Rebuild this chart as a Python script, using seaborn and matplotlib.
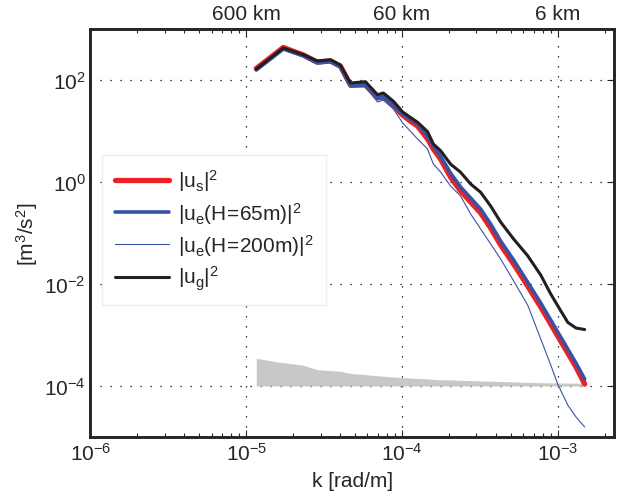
import matplotlib
matplotlib.use('Agg')
import matplotlib.pyplot as plt
import matplotlib.ticker as mticker
import seaborn as sns

# wavenumber grid [rad/m]
k = [1.16e-5, 1.73e-5, 2.33e-5, 2.86e-5, 3.47e-5, 4.02e-5, 4.67e-5, 5.83e-5,
     6.96e-5, 7.60e-5, 8.82e-5, 1.01e-4, 1.13e-4, 1.26e-4, 1.46e-4, 1.59e-4,
     1.77e-4, 2.05e-4, 2.38e-4, 2.76e-4, 3.20e-4, 3.71e-4, 4.30e-4, 5.21e-4,
     6.41e-4, 7.78e-4, 9.02e-4, 1.00e-3, 1.16e-3, 1.31e-3, 1.49e-3]

# |u_s|^2
us = [168, 434, 309, 225, 236, 188, 79.8, 79.8,
      44.4, 46.4, 30.9, 20.6, 15.7, 12.5, 6.97, 4.44,
      2.82, 1.25, 0.666, 0.405, 0.247, 0.125, 0.0582, 0.0247,
      0.00914, 0.00354, 0.00164, 0.000956, 0.000444, 0.000236, 0.000109]

# |u_e(H=65m)|^2
ue65 = [157, 405, 296, 215, 231, 180, 76.3, 79.8,
        44.4, 46.4, 32.3, 21.5, 17.2, 13.7, 7.98, 5.08,
        3.23, 1.50, 0.798, 0.486, 0.295, 0.150, 0.0697, 0.0296,
        0.0109, 0.00424, 0.00197, 0.00115, 0.000531, 0.000282, 0.000137]

# |u_e(H=200m)|^2
ue200 = [157, 405, 296, 215, 225, 172, 72.9, 76.3,
         37.0, 40.5, 27.0, 14.4, 10.0, 6.97, 4.44, 2.25,
         1.57, 0.835, 0.531, 0.236, 0.120, 0.0609, 0.0309, 0.0115,
         0.00388, 0.000835, 0.000258, 0.000109, 4.24e-5, 2.47e-5, 1.57e-5]

# |u_g|^2
ug = [164, 424, 313, 236, 250, 197, 87.4, 92.6,
      51.5, 55.6, 38.2, 23.6, 18.6, 14.8, 9.69, 5.56,
      4.11, 2.25, 1.55, 0.914, 0.628, 0.338, 0.164, 0.0763,
      0.0359, 0.0150, 0.00637, 0.00375, 0.00177, 0.00137, 0.00128]

# grey error band
band_k = [1.16e-5, 1.65e-5, 2.29e-5, 2.86e-5, 4.02e-5, 4.67e-5, 6.96e-5,
          9.36e-5, 1.77e-4, 3.71e-4, 7.78e-4, 1.47e-3]
band_hi = [3.49e-4, 2.91e-4, 2.58e-4, 2.09e-4, 1.94e-4, 1.77e-4, 1.59e-4,
           1.48e-4, 1.33e-4, 1.24e-4, 1.16e-4, 1.13e-4]
band_lo = 1e-4

top_ticks = [1e-5, 1e-4, 1e-3]
top_labels = ['600 km', '60 km', '6 km']

FS = 15

sns.set_style('white')
plt.rcParams['font.family'] = ['Liberation Sans', 'DejaVu Sans']
plt.rcParams['mathtext.fontset'] = 'custom'
plt.rcParams['mathtext.rm'] = 'Liberation Sans'
plt.rcParams['mathtext.it'] = 'Liberation Sans'
plt.rcParams['mathtext.default'] = 'regular'
plt.rcParams['font.size'] = FS

fig = plt.figure(figsize=(6.19, 5.02), dpi=100)
ax = fig.add_axes([0.1462, 0.1275, 0.8458, 0.8127])
ax.set_xscale('log')
ax.set_yscale('log')

ax.fill_between(band_k, band_lo, band_hi, color='#c8c8c8', lw=0, zorder=1)

sns.lineplot(x=k, y=us, ax=ax, color='#ed2125', lw=3.8, label=r'$|u_s|^2$', sort=False)
sns.lineplot(x=k, y=ue65, ax=ax, color='#3953a4', lw=2.6, label=r'$|u_e(H\!=\!65m)|^2$', sort=False)
sns.lineplot(x=k, y=ue200, ax=ax, color='#3953a4', lw=0.8, label=r'$|u_e(H\!=\!200m)|^2$', sort=False)
sns.lineplot(x=k, y=ug, ax=ax, color='#231f20', lw=2.2, label=r'$|u_g|^2$', sort=False)

ax.set_xlim(1e-6, 2.3e-3)
ax.set_ylim(1e-5, 1e3)
ax.set_yticks([1e-4, 1e-2, 1e0, 1e2])
ax.yaxis.set_minor_locator(mticker.NullLocator())
ax.xaxis.set_major_locator(mticker.LogLocator(base=10, numticks=10))
ax.xaxis.set_minor_locator(mticker.LogLocator(base=10, subs=range(2, 10), numticks=10))

ax.grid(True, which='major', color='k', ls=(0, (1, 7)), lw=0.9)
ax.tick_params(which='both', direction='in', top=False, right=True, labelsize=FS, width=0.8)
ax.tick_params(which='major', length=5)
ax.tick_params(which='minor', length=3)
for s in ax.spines.values():
    s.set_linewidth(1.8)
    s.set_color('k')

ax.set_xlabel('k [rad/m]', fontsize=FS, labelpad=5)
ax.set_ylabel(r'[m$^3$/s$^2$]', fontsize=FS, labelpad=3)

leg = ax.legend(loc='upper left', bbox_to_anchor=(0.022, 0.691), borderaxespad=0,
                frameon=True, fancybox=False, edgecolor='#eeeeee', framealpha=1,
                handlelength=2.6, labelspacing=0.3, fontsize=FS, handletextpad=0.45,
                borderpad=0.6)

ax2 = ax.twiny()
ax2.set_xscale('log')
ax2.set_xlim(ax.get_xlim())
ax2.set_xticks(top_ticks)
ax2.set_xticklabels(top_labels)
ax2.xaxis.set_minor_locator(mticker.LogLocator(base=10, subs=range(2, 10), numticks=10))
ax2.tick_params(which='both', direction='in', labelsize=FS, width=0.8, pad=4)
ax2.tick_params(which='major', length=5)
ax2.tick_params(which='minor', length=3)
for s in ax2.spines.values():
    s.set_linewidth(1.8)

fig.savefig('out.png', dpi=100)
